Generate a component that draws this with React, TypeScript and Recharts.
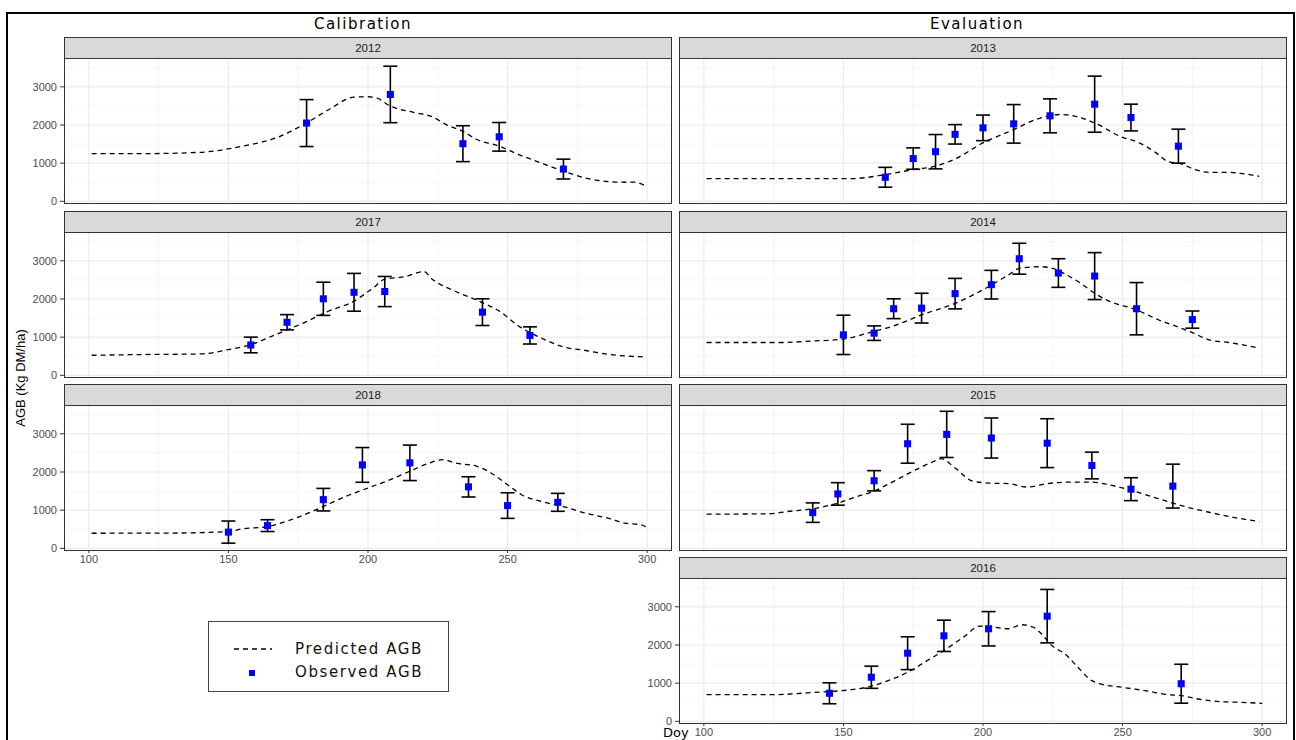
import React from 'react';
import { ComposedChart, Line, Scatter, ErrorBar, XAxis, YAxis, ZAxis, CartesianGrid } from 'recharts';

// axis breaks shared by every facet
const dayTicks = [100, 150, 200, 250, 300];
const dayMinor = [125, 175, 225, 275];
const agbTicks = [0, 1000, 2000, 3000];
const agbMinor = [500, 1500, 2500, 3500];

// predicted AGB: [doy, kg DM/ha]
const pred2012: [number, number][] = [
  [101, 1250], [120, 1250], [140, 1285], [155, 1445], [167, 1660], [178, 2055], [186, 2405],
  [195, 2730], [200, 2740], [203, 2710], [208, 2495], [216, 2335], [223, 2215], [228, 2010],
  [234, 1835], [239, 1620], [247, 1445], [254, 1225], [262, 1005], [270, 790], [278, 610],
  [285, 525], [292, 500], [295, 505], [299, 420],
];
const pred2017: [number, number][] = [
  [101, 525], [120, 545], [140, 560], [150, 675], [158, 805], [167, 1070], [177, 1375],
  [186, 1685], [195, 1945], [202, 2300], [206, 2520], [213, 2580], [220, 2720], [223, 2520],
  [231, 2210], [241, 1905], [247, 1685], [254, 1290], [262, 980], [270, 745], [278, 650],
  [285, 560], [299, 480],
];
const pred2018: [number, number][] = [
  [101, 395], [130, 400], [150, 440], [155, 510], [164, 570], [174, 790], [184, 1095],
  [192, 1360], [200, 1580], [208, 1800], [215, 2020], [222, 2235], [227, 2325], [231, 2240],
  [239, 2150], [244, 1975], [250, 1665], [255, 1405], [262, 1230], [270, 1095], [278, 920],
  [286, 790], [292, 660], [298, 615], [300, 545],
];
const pred2013: [number, number][] = [
  [101, 595], [153, 595], [165, 700], [175, 830], [183, 920], [190, 1110], [200, 1530],
  [211, 1880], [219, 2145], [228, 2275], [240, 2055], [249, 1705], [256, 1530], [262, 1270],
  [266, 1050], [271, 980], [276, 830], [281, 760], [288, 760], [293, 725], [299, 655],
];
const pred2014: [number, number][] = [
  [101, 860], [128, 860], [138, 895], [150, 950], [161, 1155], [168, 1295], [178, 1585],
  [190, 1885], [203, 2365], [209, 2625], [213, 2800], [221, 2845], [225, 2800], [229, 2670],
  [235, 2410], [240, 2150], [245, 1950], [255, 1715], [263, 1450], [271, 1235], [275, 1120],
  [281, 930], [288, 860], [298, 730],
];
const pred2015: [number, number][] = [
  [101, 895], [123, 905], [130, 965], [139, 1035], [148, 1185], [155, 1360], [161, 1500],
  [168, 1755], [176, 2060], [182, 2265], [185, 2350], [190, 2105], [196, 1770], [202, 1710],
  [209, 1695], [216, 1605], [223, 1695], [231, 1735], [239, 1735], [245, 1665], [253, 1520],
  [261, 1340], [268, 1185], [273, 1080], [281, 945], [288, 835], [299, 700],
];
const pred2016: [number, number][] = [
  [101, 700], [126, 700], [137, 745], [145, 780], [153, 830], [160, 920], [166, 1065],
  [173, 1285], [180, 1590], [186, 1855], [193, 2205], [199, 2495], [204, 2465], [209, 2425],
  [214, 2530], [218, 2465], [221, 2290], [224, 2030], [230, 1725], [234, 1415], [239, 1065],
  [242, 980], [250, 890], [258, 805], [266, 700], [271, 675], [277, 585], [285, 515],
  [292, 500], [300, 470],
];

// observed AGB: [doy, mean, sd]
const obs2012: [number, number, number][] = [
  [178, 2050, 615], [208, 2800, 740], [234, 1510, 470], [247, 1690, 375], [270, 845, 260],
];
const obs2017: [number, number, number][] = [
  [158, 795, 205], [171, 1390, 200], [184, 2005, 435], [195, 2175, 495], [206, 2195, 395],
  [241, 1655, 350], [258, 1045, 225],
];
const obs2018: [number, number, number][] = [
  [150, 425, 290], [164, 595, 155], [184, 1275, 295], [198, 2185, 455], [215, 2240, 465],
  [236, 1610, 265], [250, 1120, 335], [268, 1205, 235],
];
const obs2013: [number, number, number][] = [
  [165, 630, 260], [175, 1120, 280], [183, 1300, 450], [190, 1755, 255], [200, 1925, 335],
  [211, 2030, 505], [224, 2240, 445], [240, 2545, 735], [253, 2195, 350], [270, 1445, 445],
];
const obs2014: [number, number, number][] = [
  [150, 1060, 515], [161, 1105, 190], [168, 1745, 260], [178, 1760, 390], [190, 2140, 400],
  [203, 2375, 375], [213, 3055, 405], [227, 2680, 375], [240, 2600, 615], [255, 1745, 685],
  [275, 1460, 225],
];
const obs2015: [number, number, number][] = [
  [139, 935, 255], [148, 1425, 295], [161, 1770, 265], [173, 2740, 510], [187, 2985, 605],
  [203, 2890, 525], [223, 2755, 640], [239, 2170, 350], [253, 1550, 300], [268, 1630, 575],
];
const obs2016: [number, number, number][] = [
  [145, 735, 275], [160, 1155, 290], [173, 1785, 430], [186, 2240, 410], [202, 2425, 450],
  [223, 2755, 700], [271, 985, 510],
];

const X_DOMAIN: [number, number] = [91.1, 308.9];
const Y_DOMAIN: [number, number] = [-44, 3755];

const PANEL_W = 608;
const STRIP_H = 21;
const PLOT_H = 145;
const Y_AXIS_W = 44;
const X_AXIS_H = 20;
const PAD_B = 8; // room below the plot so the "0" label isn't clipped

const tickFont = { fill: '#4d4d4d', fontSize: 11, fontFamily: '"Liberation Sans", Arial, sans-serif' };
const titleFont = '"DejaVu Sans", Verdana, sans-serif';

interface PanelProps {
  year: string;
  left: number;
  top: number;
  pred: [number, number][];
  obs: [number, number, number][];
  showX?: boolean;
  showY?: boolean;
}

const Panel: React.FC<PanelProps> = ({ year, left, top, pred, obs, showX = false, showY = false }) => {
  const predRows = pred.map(([day, agb]) => ({ day, agb }));
  const obsRows = obs.map(([day, agb, sd]) => ({ day, agb, sd }));
  const chartLeft = showY ? left - Y_AXIS_W : left;
  const chartW = PANEL_W + (showY ? Y_AXIS_W : 0);
  const padB = showX ? 0 : PAD_B;
  const chartH = PLOT_H + (showX ? X_AXIS_H : padB);
  const plotTop = top + STRIP_H;

  return (
    <>
      <div
        style={{
          position: 'absolute', left, top, width: PANEL_W, height: STRIP_H + 1, boxSizing: 'border-box',
          background: '#d9d9d9', border: '1px solid #333', color: '#1a1a1a',
          font: '11.5px "Liberation Sans", Arial, sans-serif',
          display: 'flex', alignItems: 'center', justifyContent: 'center',
        }}
      >
        {year}
      </div>
      <div style={{ position: 'absolute', left: chartLeft, top: plotTop, width: chartW, height: chartH }}>
        <ComposedChart width={chartW} height={chartH} margin={{ top: 0, right: 0, bottom: padB, left: 0 }}>
          <CartesianGrid verticalValues={dayMinor} horizontalValues={agbMinor} stroke="#f2f2f2" strokeWidth={0.8} />
          <CartesianGrid verticalValues={dayTicks} horizontalValues={agbTicks} stroke="#ebebeb" strokeWidth={1.2} />
          <XAxis
            type="number"
            dataKey="day"
            domain={X_DOMAIN}
            ticks={dayTicks}
            interval={0}
            allowDataOverflow
            hide={!showX}
            height={X_AXIS_H}
            axisLine={false}
            tickLine={{ stroke: '#333' }}
            tickSize={3}
            tickMargin={2}
            tick={tickFont}
          />
          <YAxis
            type="number"
            domain={Y_DOMAIN}
            ticks={agbTicks}
            interval={0}
            allowDataOverflow
            hide={!showY}
            width={Y_AXIS_W}
            axisLine={false}
            tickLine={{ stroke: '#333' }}
            tickSize={4}
            tickMargin={3}
            tick={tickFont}
          />
          <ZAxis range={[50, 50]} />
          <Line
            data={predRows}
            dataKey="agb"
            type="monotone"
            stroke="#000"
            strokeWidth={1.3}
            strokeDasharray="5 4"
            dot={false}
            activeDot={false}
            isAnimationActive={false}
          />
          <Scatter data={obsRows} dataKey="agb" fill="#0000ff" shape="square" isAnimationActive={false}>
            <ErrorBar dataKey="sd" direction="y" width={7} stroke="#000" strokeWidth={1.6} />
          </Scatter>
        </ComposedChart>
      </div>
      <div
        style={{
          position: 'absolute', left, top: plotTop, width: PANEL_W, height: PLOT_H + 1,
          boxSizing: 'border-box', border: '1px solid #333', pointerEvents: 'none',
        }}
      />
    </>
  );
};

const LEFT_X = 64;
const RIGHT_X = 679;
const ROW_TOPS = [37, 211, 384, 557];

const App: React.FC = () => {
  return (
    <div style={{ position: 'absolute', left: 0, top: 0, width: 1296, height: 740, overflow: 'hidden', background: '#fff' }}>
      <div
        style={{
          position: 'absolute', left: 6, top: 12, width: 1289, height: 760,
          boxSizing: 'border-box', border: '2px solid #000',
        }}
      />

      <div style={{ position: 'absolute', left: 263, width: 200, top: 15, textAlign: 'center', font: `15px ${titleFont}`, letterSpacing: 1.5, color: '#000' }}>
        Calibration
      </div>
      <div style={{ position: 'absolute', left: 877, width: 200, top: 15, textAlign: 'center', font: `15px ${titleFont}`, letterSpacing: 1.5, color: '#000' }}>
        Evaluation
      </div>

      <div
        style={{
          position: 'absolute', left: 20, top: 378, transform: 'translate(-50%, -50%) rotate(-90deg)',
          whiteSpace: 'nowrap', font: '13px "Liberation Sans", Arial, sans-serif', color: '#000',
        }}
      >
        AGB (Kg DM/ha)
      </div>

      <Panel year="2012" left={LEFT_X} top={ROW_TOPS[0]} pred={pred2012} obs={obs2012} showY />
      <Panel year="2017" left={LEFT_X} top={ROW_TOPS[1]} pred={pred2017} obs={obs2017} showY />
      <Panel year="2018" left={LEFT_X} top={ROW_TOPS[2]} pred={pred2018} obs={obs2018} showY showX />

      <Panel year="2013" left={RIGHT_X} top={ROW_TOPS[0]} pred={pred2013} obs={obs2013} />
      <Panel year="2014" left={RIGHT_X} top={ROW_TOPS[1]} pred={pred2014} obs={obs2014} />
      <Panel year="2015" left={RIGHT_X} top={ROW_TOPS[2]} pred={pred2015} obs={obs2015} />
      <Panel year="2016" left={RIGHT_X} top={ROW_TOPS[3]} pred={pred2016} obs={obs2016} showY showX />

      <div style={{ position: 'absolute', left: 663, top: 726, font: `13px ${titleFont}`, lineHeight: '13px', color: '#000' }}>Doy</div>

      {/* legend */}
      <div
        style={{
          position: 'absolute', left: 208, top: 621, width: 241, height: 71,
          boxSizing: 'border-box', border: '1px solid #444', background: '#fff',
          font: `15px ${titleFont}`, letterSpacing: 1.6, color: '#111',
        }}
      >
        <svg width={60} height={60} style={{ position: 'absolute', left: 20, top: 10 }}>
          <line x1={5} y1={17} x2={43} y2={17} stroke="#000" strokeWidth={1.3} strokeDasharray="5 4" />
          <rect x={20} y={38} width={6} height={6} fill="#0000ff" />
        </svg>
        <div style={{ position: 'absolute', left: 86, top: 18 }}>Predicted AGB</div>
        <div style={{ position: 'absolute', left: 86, top: 41 }}>Observed AGB</div>
      </div>
    </div>
  );
};

export default App;
